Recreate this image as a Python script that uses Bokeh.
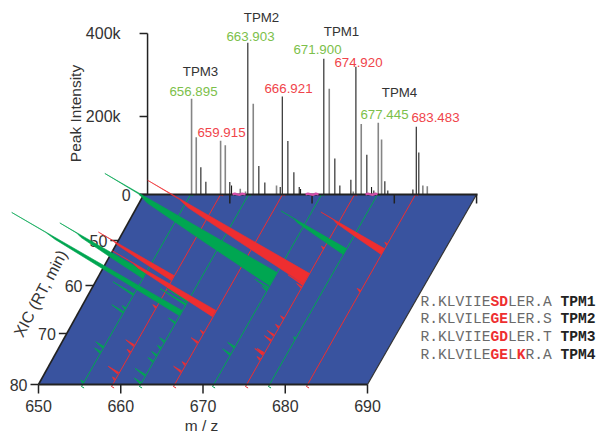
import numpy as np
from bokeh.plotting import figure
from bokeh.models import Label, Range1d
from bokeh.core.properties import value
from bokeh.embed import file_html
from bokeh.resources import INLINE

# ---------- data ----------
mz_ticks = [650, 660, 670, 680, 690]
rt_ticks = [50, 60, 70, 80]
int_ticks = [0, 200000, 400000]
int_tick_labels = ["0", "200k", "400k"]

black_mz = [656.48, 657.09, 660.0, 660.21, 662.19, 663.53, 664.26, 666.13, 666.38, 667.06, 667.79,
            668.44, 668.6, 671.43, 672.77, 673.38, 674.72, 675.33, 676.66, 677.23, 677.51, 678.85,
            679.21, 682.26, 682.67, 682.98]
black_int = [70, 33, 32, 23, 378, 73, 31, 19, 248, 137, 57, 19, 14, 339, 92, 23, 38, 320, 102, 19,
             10, 34, 10, 13, 174, 108]
gray_mz = [655.35, 655.92, 658.88, 659.45, 661.27, 661.91, 662.85, 665.68, 672.09, 675.01, 675.98,
           678.05, 678.45, 683.47, 684.01]
gray_int = [243, 147, 138, 126, 15, 8, 231, 23, 267, 8, 181, 184, 141, 23, 21]

pink_mz = [[660.33, 660.6, 660.9, 661.2, 661.5, 661.91],
           [669.21, 669.5, 669.85, 670.15, 670.45, 670.79],
           [676.5, 676.8, 677.1, 677.4, 677.7, 677.96]]
pink_int = [[3, 5, 3, 2, 5, 3], [3, 5, 3, 2, 5, 3], [3, 5, 3, 2, 5, 3]]

line_names = ["G1", "R1", "G2", "R2", "G3", "R3", "G4", "R4"]
line_mz = [655.23, 658.88, 662.28, 666.41, 671.16, 675.17, 677.96, 682.58]

# main elution wedges: line, RT of the apex, RT of the end, relative height
wedge_line = ["G3", "R3", "G4", "R4", "R1", "G1", "G2", "R2"]
wedge_rt0 = [57.1, 57.3, 51.8, 51.8, 57.8, 57.1, 65.2, 65.2]
wedge_rt1 = [60.0, 59.6, 53.1, 53.1, 58.9, 58.4, 66.25, 66.5]
wedge_int = [100, 94, 38, 37, 44, 50, 99, 60.5]
# common tailing profile of the wedges: share of height against share of RT width
tail_height = [1.0, 0.8, 0.74, 0.4, 0.0]
tail_width = [0.0, 0.06, 0.3, 0.65, 1.0]

# small peaks along each line
spike_line = ["G1"]*6 + ["R1"]*5 + ["G2"]*9 + ["R2"]*4 + ["G3"]*4 + ["R3"]*11 + ["G4"] + ["R4"]*2
spike_rt = [65.4, 64.6, 72.5, 73.5, 79.4, 61.7,
            77.6, 72.2, 73.5, 64.4, 78.8,
            78.0, 79.5, 75.3, 74.1, 72.7, 71.4, 67.6, 63.75, 63.1,
            77.3, 75.9, 71.6, 69.7,
            73.9, 72.5, 60.3, 60.8,
            73.9, 74.9, 71.2, 70.2, 68.5, 66.7, 73.7, 51.6, 50.2, 59.6, 60.2,
            70.8,
            61.0, 50.7]
spike_int = [6.8, 2, 4.5, 3.5, 1.5, 12,
             6, 5, 2, 2, 1.5,
             6, 4, 3, 3, 2, 3, 4, 15, 12,
             4.5, 2, 4, 2,
             4.5, 4, 8, 3,
             5, 2, 4, 4, 2, 2, 4, 1.5, 1, 9, 3,
             1,
             2, 1.5]

peak_labels = ["656.895", "659.915", "663.903", "666.921", "671.900", "674.920", "677.445", "683.483"]
tpm_labels = ["TPM3", "TPM2", "TPM1", "TPM4"]
sequences = ["R.KLVIIESDLER.A", "R.KLVILEGELER.S", "R.KLVIIEGDLER.T", "R.KLVILEGELKR.A"]
red_idx = [[8, 9], [8, 9], [8, 9], [8, 9, 11]]
seq_tags = ["TPM1", "TPM2", "TPM3", "TPM4"]

# ---------- colours ----------
BLUE, GREEN, RED = "#39539f", "#00a651", "#ee2e30"
LGREEN, LRED = "#7cc04a", "#f0444a"
TXT = "#333333"
AXC = "#222222"
FONT = "Liberation Sans"

# ---------- projection ----------
W, H = 598, 439
PX = 8.225                 # pixels per m/z unit
SKEW = 0.574               # sideways shift per pixel of height
LEFT, BASE = 38, 384       # pixel of m/z 650 and of RT 80 in the page
RT_REF = [40, 50, 60, 70, 80]
H_REF = [190, 144, 99, 51, 0]
RT_TOP = 40

def hgt(rt):
    return np.interp(rt, RT_REF, H_REF)

def px(x):
    return 650 + (x - LEFT) / PX

def py(y):
    return BASE - y

def fx(mz, rt, i=0.0):
    return mz + (hgt(rt) * SKEW - 1.72 * i) / PX

def fy(rt, i=0.0):
    return hgt(rt) + 0.99 * i

def spec_h(v):
    return np.interp(v, [0, 200, 400], [0, 78, 161])

p = figure(width=W, height=H, output_backend="svg", toolbar_location=None,
           x_range=Range1d(px(0), px(W)), y_range=Range1d(py(H), py(0)),
           min_border_left=0, min_border_right=0, min_border_top=0, min_border_bottom=0,
           x_axis_location=None, y_axis_location=None)
p.outline_line_color = None
p.grid.visible = False

# plane
edge_shift = 0.45
p.patch([650, 690, fx(690, RT_TOP), fx(650 - edge_shift, RT_TOP)],
        [0, 0, fy(RT_TOP), fy(RT_TOP)], fill_color=BLUE, line_color=None)
p.line([650, fx(650 - edge_shift, RT_TOP)], [0, fy(RT_TOP)], line_color=AXC, line_width=1.6)
p.line([690, fx(690, RT_TOP)], [0, fy(RT_TOP)], line_color="#333333", line_width=1.2)

# spectrum on the back wall
def stick_x(m):
    return [float(fx(a, RT_TOP)) for a in m]

top = fy(RT_TOP)
p.segment(stick_x(gray_mz), [top]*len(gray_mz), stick_x(gray_mz),
          [top + spec_h(v) for v in gray_int], line_color="#858585", line_width=1.6)
p.segment(stick_x(black_mz), [top]*len(black_mz), stick_x(black_mz),
          [top + spec_h(v) for v in black_int], line_color="#1c1c1c", line_width=1.1)

# lines of each XIC
def col(name):
    return GREEN if name[0] == "G" else RED

pos = dict(zip(line_names, line_mz))
for n in line_names:
    m = pos[n]
    p.line([fx(m, RT_TOP, -1.5), fx(m, RT_TOP), fx(m, 80), fx(m, 80, -1.5)],
           [fy(RT_TOP, -1.5), fy(RT_TOP), fy(80) - 2, fy(80, -1.5) - 2],
           line_color=col(n), line_width=1)

# bottom axis
p.line([650, 690], [0, 0], line_color=AXC, line_width=2)
p.segment(mz_ticks, [0]*5, mz_ticks, [-9]*5, line_color=AXC, line_width=1.5)
p.text(mz_ticks, [-21]*5, [str(t) for t in mz_ticks], text_align="center", text_baseline="middle",
       text_font=value(FONT), text_font_size="16px", text_color=TXT)

# back-wall axes
x650 = fx(650, RT_TOP)
p.line([fx(650 - edge_shift, RT_TOP) - 4 / PX, fx(690, RT_TOP) + 1 / PX], [top, top], line_color=AXC, line_width=2)
p.line([x650, x650], [top, top + spec_h(400)], line_color=AXC, line_width=1.5)
for v, lab in zip(int_ticks, int_tick_labels):
    yy = top + spec_h(v / 1000)
    p.line([x650 - 8 / PX, x650], [yy, yy], line_color=AXC, line_width=1.5)
    p.text([x650 - (17 if v == 0 else 27) / PX], [yy], [lab], text_align="right", text_baseline="middle",
           text_font=value(FONT), text_font_size="16px", text_color=TXT)
tick_mz = mz_ticks[1:]
p.segment(stick_x(tick_mz), [top]*4, stick_x(tick_mz), [top - 9]*4, line_color=AXC, line_width=1.5)
for m, v in zip(pink_mz, pink_int):
    p.line(stick_x(m), [top + spec_h(a) - 1 for a in v], line_color="#d24fa8", line_width=2.4)

# RT axis along the slanted edge
for rt in rt_ticks:
    e = 650 - edge_shift * (80 - rt) / 40 + hgt(rt) * SKEW / PX
    yy = fy(rt)
    p.line([e - 8 / PX, e], [yy, yy], line_color=AXC, line_width=1.5)
    p.text([e - 11 / PX], [yy], [str(rt)], text_align="right", text_baseline="middle",
           text_font=value(FONT), text_font_size="16px", text_color=TXT)

# small peaks
xs, ys, cs = [], [], []
SPIKE_W = 0.35
for n, r, v in zip(spike_line, spike_rt, spike_int):
    m = pos[n]
    xs.append([fx(m, r), fx(m, r, v), fx(m, r + SPIKE_W)])
    ys.append([fy(r), fy(r, v), fy(r + SPIKE_W)])
    cs.append(col(n))
p.patches(xs, ys, fill_color=cs, line_color=cs, line_width=0.7)

# main wedges, back to front
xs, ys, cs = [], [], []
for n, a, b, v in zip(wedge_line, wedge_rt0, wedge_rt1, wedge_int):
    m = pos[n]
    wx, wy = [fx(m, a)], [fy(a)]
    for th, tw in zip(tail_height, tail_width):
        r = a + (b - a) * tw
        wx.append(fx(m, r, v * th))
        wy.append(fy(r, v * th))
    xs.append(wx)
    ys.append(wy)
    cs.append(col(n))
p.patches(xs, ys, fill_color=cs, line_color=cs, line_width=0.6)

# annotations
def note(x, y, s, color=TXT, size="13.3px", angle=0.0, font=FONT, style="normal", align="center"):
    p.add_layout(Label(x=px(x), y=py(y), text=s, text_color=color, text_font_size=size, angle=angle,
                       text_font=font, text_font_style=style, text_align=align, text_baseline="middle"))

for s, x, y, c in zip(peak_labels, [193, 221, 250, 288, 317, 358, 384, 435],
                      [91, 132, 36, 88, 49, 62, 114, 117],
                      [LGREEN, LRED, LGREEN, LRED, LGREEN, LRED, LGREEN, LRED]):
    note(x, y, s, color=c)
for s, x, y in zip(tpm_labels, [200, 261, 341, 399], [71, 17, 31, 92]):
    note(x, y, s)
note(75, 113, "Peak Intensity", size="15.5px", angle=np.pi / 2)
note(40, 293, "XIC (RT, min)", size="16px", angle=np.radians(62))
note(201, 425, "m / z", size="15.5px")

# sequences
CH = 8.75
for row, (seq, reds, tag) in enumerate(zip(sequences, red_idx, seq_tags)):
    y = 301 + row * 17.7
    i = 0
    while i < len(seq):
        j = i + 1
        is_red = i in reds
        while j < len(seq) and (j in reds) == is_red:
            j += 1
        note(420 + i * CH, y, seq[i:j], color=RED if is_red else "#6a6a6a", size="14.6px",
             font="Liberation Mono", style="bold" if is_red else "normal", align="left")
        i = j
    note(420 + 16 * CH, y, tag, color="#222222", size="14.6px", font="Liberation Mono", style="bold", align="left")

open("out.html", "w").write(file_html(p, INLINE))
